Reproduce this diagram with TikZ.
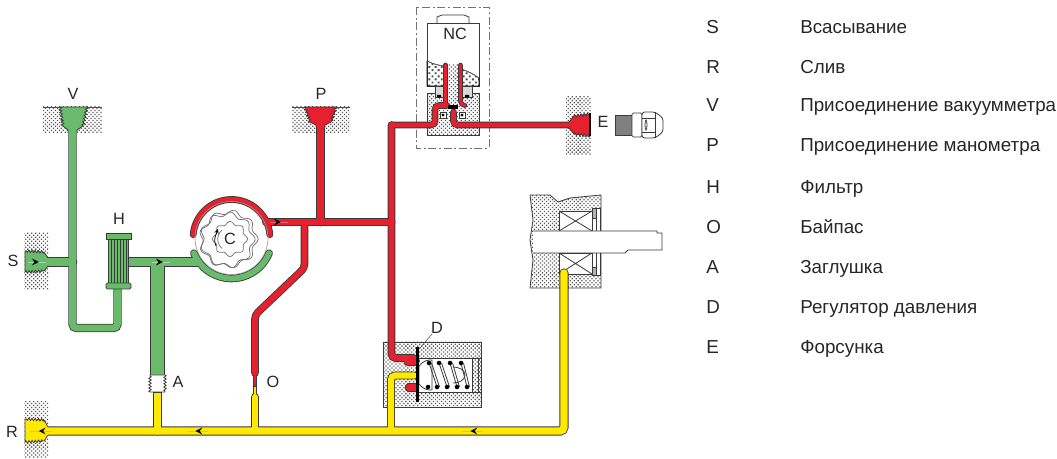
\documentclass[tikz,border=0pt]{standalone}
\usepackage{fontspec}
\setmainfont{Liberation Sans}
\definecolor{edge}{HTML}{3A3A3A}
\definecolor{pipegreen}{HTML}{69BB6B}
\definecolor{pipered}{HTML}{E6202E}
\definecolor{pipeyellow}{HTML}{FFE900}
\usetikzlibrary{decorations.pathmorphing,
                 decorations.markings,
                 patterns.meta}
\tikzset{flow/.style = {decoration={markings, mark=at position 0.6 with {\arrow[scale=1.5,black]{stealth}}}, postaction={decorate}, line width = 0.5pt}}
\tikzset{cast/.style = {pattern={Dots[distance=2.1pt,radius=0.68pt,angle=45]}, pattern color=black!65}}
\tikzset{castwide/.style = {pattern={Dots[distance=3.3pt,radius=1pt,angle=45]}, pattern color=black!70}}
\tikzset{thread/.style = {decoration={zigzag, segment length=2.4pt, amplitude=0.9pt}}}
\tikzset{wall/.style = {draw=edge, line width = 0.6pt}}
\tikzset{rotor/.style = {draw=black!55, line width = 0.55pt}}
\tikzset{tag/.style = {font=\fontsize{12.2}{14}\selectfont, text=black!85, inner sep = 0}}
\tikzset{entry/.style = {font=\fontsize{14.1}{16}\selectfont, text=black!85, inner sep = 0, anchor = base west}}
\tikzset{coil/.style = {fill=black, circle, inner sep = 0, minimum size = 3.4}}
\newcommand{\pipe}[2]{\draw[line width = #1\pipeextra, draw=\pipecol, rounded corners=3pt, line cap=round] #2;}
\newcommand{\network}[2]{\def\pipeextra{+1.3pt}\def\pipecol{edge}#2\def\pipeextra{}\def\pipecol{#1}#2}

\begin{document}
\begin{tikzpicture}[x = 0.75pt, y = -0.75pt]
	\useasboundingbox (0,0) rectangle (1057,459);

	\fill[cast] (43,107) rectangle (102,133);
	\fill[cast] (292,107) rectangle (350,133);
	\fill[cast] (24,233) rectangle (48,290);
	\fill[cast] (24,402) rectangle (48,458);
	\fill[cast] (566,97) rectangle (591,155);
	\draw[black!70, line width = 0.5pt] (43,107) -- (102,107) (292,107) -- (350,107);

	\draw[draw=black!55, dash pattern=on 6pt off 2pt on 1.5pt off 2pt, line width = 0.7pt] (416,7) rectangle (489,148);
	\draw[wall, fill=white] (437,23) -- (437,17) -- (442,15) -- (464,15) -- (469,17) -- (469,23);
	\draw[wall, fill=white] (427,23) rectangle (479,86);
	\draw[castwide] (427,61) .. controls (445,70) and (458,63) .. (479,78) -- (479,86) -- (427,86) -- cycle;
	\draw[black!60, line width = 0.5pt] (427,61) .. controls (445,70) and (458,63) .. (479,78);
	\draw[wall, fill=black!15] (435,86) rectangle (472,97);
	\draw[wall, cast] (427,93) -- (435,93) -- (435,97) -- (472,97) -- (472,93) -- (479,93) -- (479,135) -- (427,135) -- cycle;
	\draw[wall, fill=white] (440,112) rectangle (446,118) (459,112) rectangle (465,118);
	\fill[black] (443,115) circle (1.6) (462,115) circle (1.6);
	\fill[black] (437,95) rectangle (441,97.5) (465,95) rectangle (469,97.5);
	\fill[white] (447,65) rectangle (459,107);
	\fill[cast] (447,65) rectangle (459,107);

	\draw[wall, cast] (383,342) rectangle (481,407);
	\draw[wall, fill=white] (417,358) rectangle (478,392);
	\draw[wall, cast] (472,358) rectangle (481,392);
	\draw[wall, fill=white] (419,366) .. controls (424,360) and (428,360) .. (432,360) -- (432,390) .. controls (428,390) and (424,390) .. (419,384) -- cycle;
	\draw[wall] (453,367) .. controls (459,367) and (465,370) .. (465,375) .. controls (465,380) and (459,383) .. (453,383);
	\foreach \xa/\xb in {429/437, 439/447, 450/457, 461/467} {
		\draw[wall] (\xa,363) -- (\xb,387);
		\draw[wall] (\xa+2.5,363) -- (\xb+2.5,387);
	}
	\foreach \xa in {429,439,450,461}
		\node[coil] (top\xa) at (\xa,363) {};
	\foreach \xb in {428,437,447,457,467}
		\node[coil] (low\xb) at (\xb,387) {};

	\draw[wall, cast] (530,195) -- (550,195) -- (558,202) -- (570,198) -- (601,195) -- (601,288) -- (530,288) -- (533,260) -- (530,240) -- (533,220) -- cycle;
	\draw[wall, fill=white] (592,208) rectangle (600,275);
	\draw[wall, fill=black!30] (592,208) rectangle (596,218) (592,267) rectangle (596,275);
	\draw[wall] (596,218) -- (596,267);
	\draw[wall, fill=white] (559,211) rectangle (592,231);
	\draw[wall] (559,211) -- (592,231) (559,231) -- (592,211);
	\draw[wall, fill=white] (559,253) rectangle (592,274);
	\draw[wall] (559,253) -- (592,274) (559,274) -- (592,253);
	\draw[wall, fill=white] (533,231) -- (657,231) -- (657,233) -- (662,233) -- (662,250) -- (657,250) -- (628,250) -- (625,253) -- (533,253);

	\network{pipegreen}{
		\pipe{5pt}{(72.5,131) -- (72.5,328) -- (117.5,328) -- (117.5,287)}
		\pipe{6pt}{(46,262) -- (72.5,262)}
		\pipe{6pt}{(128,262) -- (197,262)}
		\pipe{10pt}{(157.5,267) -- (157.5,375)}
		\pipe{4.4pt}{(231.5,238) ++(158:40.5) arc[start angle=158, end angle=22, radius=40.5]}
	}
	\network{pipeyellow}{
		\pipe{5.6pt}{(48,431) -- (564,431) -- (564,273)}
		\pipe{5.6pt}{(157.5,392) -- (157.5,431)}
		\pipe{4.6pt}{(255,397) -- (255,431)}
		\pipe{2pt}{(255,385) -- (255,397)}
		\pipe{4.6pt}{(391,431) -- (391,375.5) -- (414,375.5)}
	}
	\network{pipered}{
		\pipe{3.8pt}{(231.5,238) ++(-175:38.5) arc[start angle=-175, end angle=-5, radius=38.5]}
		\pipe{4.8pt}{(266,222) -- (391.5,222)}
		\pipe{5.4pt}{(320.5,222) -- (320.5,124)}
		\pipe{4.4pt}{(304.5,222) -- (304.5,268) -- (255,315) -- (255,373)}
		\pipe{2pt}{(255,373) -- (255,385)}
		\pipe{4.4pt}{(391.5,125) -- (391.5,358) -- (414,358)}
		\pipe{3.6pt}{(391.5,125) -- (435,125) -- (435,105.5) -- (447,105.5)}
		\pipe{3.6pt}{(453.5,112) -- (453.5,125) -- (570,125)}
		\pipe{2.2pt}{(445.5,65) -- (445.5,105)}
		\pipe{2.2pt}{(460.5,65) -- (460.5,105) -- (465,105.5)}
		\pipe{5pt}{(409,387.5) -- (415,387.5)}
		\pipe{6pt}{(408,361) -- (415,361)}
	}
	\draw[fill=black] (448,105.5) rectangle (457,108.5);

	\filldraw[wall, fill=pipegreen] (68,133) -- (68,130) -- (63,126) decorate[thread]{-- (60,107)} -- (87,107) decorate[thread]{-- (83,126)} -- (77,130) -- (77,133);
	\filldraw[wall, fill=pipered] (316,127) -- (316,125) -- (310,122) decorate[thread]{-- (305,107)} -- (336,107) decorate[thread]{-- (331,122)} -- (325,125) -- (325,127);
	\filldraw[wall, fill=pipegreen] (48,258) -- (44,252) decorate[thread]{-- (25,251)} -- (25,272) decorate[thread]{-- (44,271)} -- (48,266);
	\filldraw[wall, fill=pipeyellow] (48,427) -- (44,420) decorate[thread]{-- (25,419)} -- (25,442) decorate[thread]{-- (44,441)} -- (48,435);
	\filldraw[wall, fill=pipered] (569,122) -- (574,116) decorate[thread]{-- (590,114)} -- (590,136) decorate[thread]{-- (574,134)} -- (569,128);
	\draw[black, line width = 0.9pt] (590,113) -- (590,136);

	\draw[wall, fill=pipegreen] (106,233) rectangle (131,239);
	\draw[wall, fill=pipegreen] (108,239) rectangle (128,284);
	\draw[edge, line width = 0.35pt, step=3] (108,239) grid (128,284);
	\draw[wall, fill=pipegreen, rounded corners=1pt] (106,283) rectangle (131,289);

	\draw[wall, fill=white] (150,375) -- (165,375) decorate[thread]{-- (165,392)} -- (150,392) decorate[thread]{-- (150,375)};
	\draw[wall] (153,392) -- (162,392);

	\draw[black!40, line width = 0.5pt] (231.5,238) circle (36.5);
	\draw[rotor, rounded corners=0] plot[smooth cycle, samples=72, domain=0:355] ({229+(27+2.2*cos(9*\x))*cos(\x)},{239+(27+2.2*cos(9*\x))*sin(\x)});
	\draw[rotor] plot[smooth cycle, samples=72, domain=0:355] ({227+(26+2.2*cos(9*\x+15))*cos(\x)},{240+(26+2.2*cos(9*\x+15))*sin(\x)});
	\draw[rotor] plot[smooth cycle, samples=64, domain=0:355] ({230+(16+1.6*cos(8*\x))*cos(\x)},{239+(16+1.6*cos(8*\x))*sin(\x)});
	\draw[rotor] (222,230) arc[start angle=-130, end angle=-230, radius=12];
	\draw[rotor, -stealth, black] (216,246) .. controls (214,240) .. (218,229);

	\draw[flow, draw=pipegreen!60!white] (28,262) -- (46,262);
	\draw[flow, draw=pipegreen!60!white] (152,262) -- (170,262);
	\draw[flow, draw=pipered!70!white] (270,222) -- (288,222);
	\draw[flow, draw=pipeyellow!40!black!40!white] (52,431) -- (30,431);
	\draw[flow, draw=pipeyellow!40!black!40!white] (208,431) -- (187,431);
	\draw[flow, draw=pipeyellow!40!black!40!white] (483,431) -- (462,431);

	\draw[fill=black!50, draw=edge, line width = 0.5pt] (615,115) rectangle (632,135);
	\draw[wall, fill=white, rounded corners=1pt] (632,113) rectangle (642,137);
	\draw[wall, fill=white, rounded corners=2pt] (642,112) -- (655,112) -- (663,118) -- (663,132) -- (655,138) -- (642,138) -- cycle;
	\draw[wall] (642,118) -- (655,118) (642,132) -- (655,132) (655,112) -- (655,138);
	\draw[wall] (646,125) ellipse (1 and 5);

	\fill[black] (416,347) rectangle (419,402);
	\draw[black!70, line width = 0.4pt] (432,334) -- (420,348);

	\node[tag] (portv) at (73,94) {V};
	\node[tag] (porth) at (119,219) {H};
	\node[tag] (ports) at (13,261) {S};
	\node[tag] (pumpc) at (230,239) {C};
	\node[tag] (portp) at (321,94) {P};
	\node[tag] (valve) at (455,34) {NC};
	\node[tag] (porte) at (603,122) {E};
	\node[tag] (regd) at (437,328) {D};
	\node[tag] (plug) at (178,382) {A};
	\node[tag] (bypass) at (273,382) {O};
	\node[tag] (portr) at (12,432) {R};

	\foreach \key/\val/\row in {S/Всасывание/33.5, R/Слив/73.5, V/Присоединение вакуумметра/112, P/Присоединение манометра/152, H/Фильтр/193.5, O/Байпас/233.5, A/Заглушка/273.5, D/Регулятор давления/313.5, E/Форсунка/353.5} {
		\node[entry] (key\row) at (706,\row) {\key};
		\node[entry] (val\row) at (800,\row) {\val};
	}
\end{tikzpicture}
\end{document}
